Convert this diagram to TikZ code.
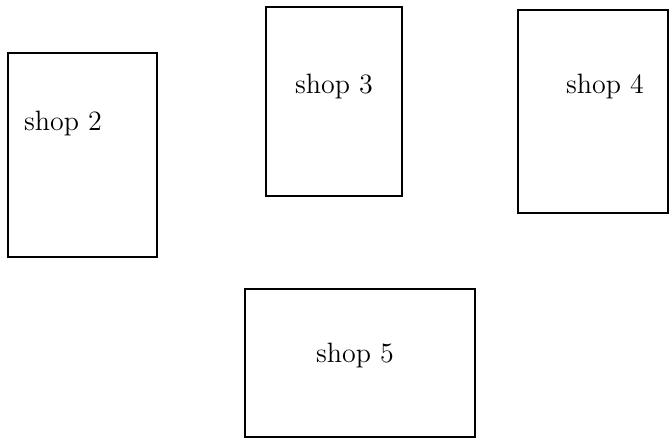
\documentclass[tikz,border=0pt]{standalone}
\usepackage{tikz}

\tikzset{
  shopbox/.style={draw, line width=0.75pt, rectangle, inner sep=0pt},
  shoplabel/.style={font=\fontsize{14}{16}\selectfont}
}

\begin{document}
\begin{tikzpicture}[x=0.5pt, y=-0.5pt]
    \useasboundingbox (0,0) rectangle (671,440);
    % the four shops
    \node[shopbox, minimum width=74.5pt, minimum height=102pt] (box2) at (82.5,155) {};
    \node[shopbox, minimum width=68pt, minimum height=94.5pt] (box3) at (334,101.5) {};
    \node[shopbox, minimum width=75pt, minimum height=101.5pt] (box4) at (593,111.5) {};
    \node[shopbox, minimum width=115pt, minimum height=74pt] (box5) at (360,363) {};
    % names
    \node[shoplabel] (shop2) at (63,123) {shop 2};
    \node[shoplabel] (shop3) at (334,86) {shop 3};
    \node[shoplabel] (shop4) at (605,86) {shop 4};
    \node[shoplabel] (shop5) at (355,355) {shop 5};
  \end{tikzpicture}
\end{document}
